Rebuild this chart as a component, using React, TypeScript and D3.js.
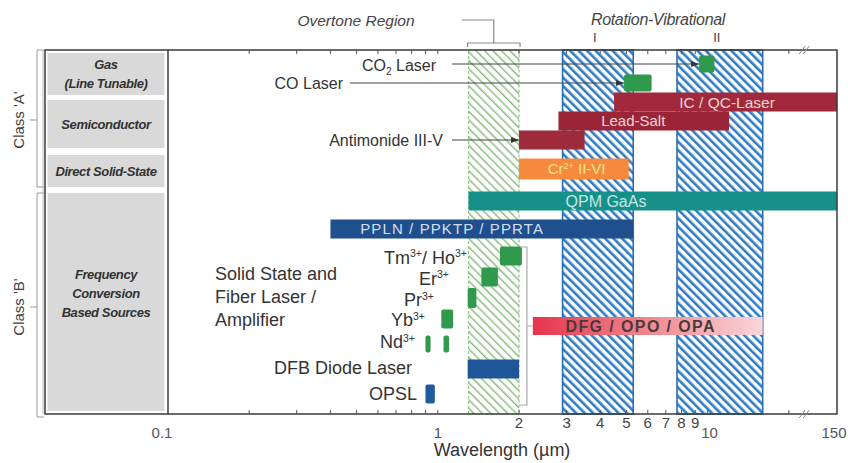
import React from "react";
import * as d3 from "d3";

// rows of the chart, top to bottom
const sourceRows = ["CO2", "CO", "ICQC", "LeadSalt", "Antimonide", "Cr", "QPM", "PPLN", "TmHo", "Er", "Pr", "Yb", "Nd", "DFB", "OPSL"];

// wavelength segments (µm)
const segRow = ["CO2", "CO", "ICQC", "LeadSalt", "Antimonide", "Cr", "QPM", "PPLN", "TmHo", "Er", "Pr", "Yb", "Nd", "Nd", "DFB", "OPSL"];
const segStart = [9.3, 4.9, 4.5, 2.8, 2.0, 2.0, 1.3, 0.4, 1.7, 1.45, 1.29, 1.03, 0.9, 1.05, 1.29, 0.9];
const segEnd = [10.6, 6.2, 150, 12, 3.5, 5.1, 150, 5.3, 2.05, 1.67, 1.39, 1.14, 0.94, 1.1, 2.0, 0.975];

const dfgRange = [2.25, 16];

// hatched absorption regions
const bandNames = ["Overtone", "I", "II"];
const bandStart = [1.3, 2.9, 7.7];
const bandEnd = [2.0, 5.3, 16];

const majorTicks = [0.1, 1, 10, 150];
const numberedMinor = [2, 3, 4, 5, 6, 7, 8, 9];
const minorTicks = [0.2, 0.3, 0.4, 0.5, 0.6, 0.7, 0.8, 0.9, 2, 3, 4, 5, 6, 7, 8, 9, 20];

const classNames = ["Class 'A'", "Class 'B'"];
const groupLabels = [["Gas", "(Line Tunable)"], ["Semiconductor"], ["Direct Solid-State"], ["Frequency", "Conversion", "Based Sources"]];

const fills: Record<string, string> = {
  CO2: "#2f9a4c", CO: "#2f9a4c", ICQC: "#a1293b", LeadSalt: "#9b2537", Antimonide: "#9d2b3b",
  Cr: "#f58a3d", QPM: "#16918a", PPLN: "#1f4f8d", TmHo: "#2f9a4c", Er: "#2f9a4c", Pr: "#2f9a4c",
  Yb: "#2f9a4c", Nd: "#2f9a4c", DFB: "#1e5697", OPSL: "#205b9c",
};
const thick: Record<string, number> = { CO2: 17, CO: 17, Cr: 21, Pr: 20, Nd: 17 };

const FONT = "'Liberation Sans', Arial, sans-serif";

export default function App() {
  const top = 50, bottom = 414, left = 45, right = 837, plotLeft = 168;

  // log wavelength axis, compressed after the break
  const x = d3.scaleLog().domain([0.1, 25, 150]).range([plotLeft, 815, right]);
  const rowY = d3.scaleLinear().domain([0, 4, 5, 6, 7, 8, 11, 14]).range([64, 140, 169, 201, 229, 256, 319, 394]);
  const y = (name: string) => rowY(sourceRows.indexOf(name));

  const bracketX = x(2.05) + 5;
  const bracketTop = y("TmHo") - 9;
  const bracketBot = y("OPSL") + 11;
  const bracketMid = (bracketTop + bracketBot) / 2;

  const boxes = [[53, 95], [100, 148], [155, 187], [193, 411]];
  const breakX = x(23);

  const sup = (t: string, d = 7) => (
    <tspan fontSize={10.5} dy={-d}>{t}</tspan>
  );
  const down = (t: string, d = 7) => <tspan dy={d}>{t}</tspan>;

  const barText = (label: React.ReactNode, at: number, yy: number, color: string, size = 15, extra: any = {}) => (
    <text x={x(at)} y={yy + size * 0.36} textAnchor="middle" fontSize={size} fill={color} fontFamily={FONT} {...extra}>
      {label}
    </text>
  );

  return (
    <div style={{ position: "absolute", left: 0, top: 0 }}>
      <svg width={848} height={463} style={{ display: "block", background: "#fff" }} fontFamily={FONT}>
        <defs>
          <pattern id="hatchBlue" width="6" height="6" patternUnits="userSpaceOnUse" patternTransform="rotate(-45)">
            <rect width="6" height="6" fill="#fff" />
            <rect width="2.6" height="6" fill="#2f7cc4" />
          </pattern>
          <pattern id="hatchGreen" width="6" height="6" patternUnits="userSpaceOnUse" patternTransform="rotate(-45)">
            <rect width="6" height="6" fill="#fff" />
            <rect width="1.4" height="6" fill="#84bb78" />
          </pattern>
          <linearGradient id="dfgGrad" x1="0" x2="1" y1="0" y2="0">
            <stop offset="0" stopColor="#e6344d" />
            <stop offset="0.45" stopColor="#ef7f86" />
            <stop offset="1" stopColor="#f8d6da" />
          </linearGradient>
          <marker id="arr" viewBox="0 0 8 6" refX="8" refY="3" markerWidth="8" markerHeight="6" orient="auto">
            <path d="M0,0 L8,3 L0,6 z" fill="#333" />
          </marker>
        </defs>

        {/* left category panel */}
        {boxes.map(([a, b], i) => (
          <rect key={i} x={47.5} y={a} width={117} height={b - a} fill="#d9d9d9" />
        ))}
        {groupLabels.map((lines, i) => {
          const [a, b] = boxes[i];
          const mid = i === 3 ? 293 : (a + b) / 2;
          return lines.map((t, j) => (
            <text key={i + "-" + j} x={106} y={mid + (j - (lines.length - 1) / 2) * 19 + 4.5} textAnchor="middle"
              fontSize={13} fontStyle="italic" fontWeight="bold" fill="#333" letterSpacing={-0.4}>
              {t}
            </text>
          ));
        })}

        {/* class brackets */}
        <path d={`M44,${top} H37 V187 H44 M37,120 H30`} fill="none" stroke="#999" strokeWidth={1} />
        <path d={`M44,193 H37 V${bottom + 3} H44 M37,307 H30`} fill="none" stroke="#999" strokeWidth={1} />
        {classNames.map((c, i) => (
          <text key={c} transform={`translate(24,${i === 0 ? 120 : 307}) rotate(-90)`} textAnchor="middle"
            fontSize={15} fill="#444">{c}</text>
        ))}

        {/* hatched regions */}
        {bandNames.map((n, i) => {
          const x0 = x(bandStart[i]), x1 = x(bandEnd[i]);
          const green = i === 0;
          return (
            <g key={n}>
              <rect x={x0} y={top} width={x1 - x0} height={bottom - top} fill={green ? "url(#hatchGreen)" : "url(#hatchBlue)"} />
              <rect x={x0} y={top} width={x1 - x0} height={bottom - top} fill="none"
                stroke={green ? "#92c687" : "#2a6cb3"} strokeWidth={green ? 1.2 : 1.6}
                strokeDasharray={green ? "3,2" : undefined} />
              {!green && (
                <text x={(x0 + x1) / 2 - 3} y={42} textAnchor="middle" fontSize={13} fill="#444">{n}</text>
              )}
            </g>
          );
        })}

        {/* overtone bracket and titles */}
        <path d={`M${x(1.3) - 1},47 V43 H${x(2.0) + 1} V47`} fill="none" stroke="#888" strokeWidth={1.2} />
        <path d={`M${(x(1.3) + x(2.0)) / 2},43 V20 H462`} fill="none" stroke="#888" strokeWidth={1.2} />
        <text x={356} y={26} textAnchor="middle" fontSize={15.5} fontStyle="italic" fill="#444">Overtone Region</text>
        <text x={658} y={25} textAnchor="middle" fontSize={16} fontStyle="italic" fill="#444" letterSpacing={-0.3}>Rotation-Vibrational</text>

        {/* source bars */}
        {segRow.map((r, i) => {
          const h = thick[r] ?? 19;
          const x0 = x(segStart[i]), x1 = x(segEnd[i]);
          const small = ["CO2", "CO", "TmHo", "Er", "Pr", "Yb", "Nd", "OPSL"].includes(r);
          return (
            <rect key={i} x={x0} y={y(r) - h / 2} width={x1 - x0} height={h} fill={fills[r]} rx={small ? 2 : 0} />
          );
        })}

        {/* DFG / OPO / OPA */}
        <rect x={x(dfgRange[0])} y={bracketMid - 9} width={x(dfgRange[1]) - x(dfgRange[0])} height={18} fill="url(#dfgGrad)" />
        <path d={`M${bracketX - 7},${bracketTop} H${bracketX} V${bracketBot} H${bracketX - 7} M${bracketX},${bracketMid} H${x(dfgRange[0])}`}
          fill="none" stroke="#aaa" strokeWidth={1.2} />

        {/* bar labels */}
        {barText("IC / QC-Laser", 11.8, y("ICQC"), "#f2d6d8", 15.5)}
        {barText("Lead-Salt", 5.3, y("LeadSalt"), "#f2d6d8", 15)}
        {barText(<>Cr<tspan fontSize={9} dy={-5}>2+</tspan><tspan dy={5}> II-VI</tspan></>, 3.27, y("Cr"), "#fbe38f", 15)}
        {barText("QPM GaAs", 4.2, y("QPM"), "#c6e6e4", 16)}
        {barText("PPLN / PPKTP / PPRTA", 1.13, y("PPLN"), "#d5dff0", 15, { letterSpacing: 1.1 })}
        {barText("DFG / OPO / OPA", 5.65, bracketMid, "#4a3a3e", 16, { fontWeight: "bold", letterSpacing: 1.4 })}

        {/* callouts */}
        <text x={436} y={y("CO2") + 7} textAnchor="end" fontSize={16} fill="#333">CO<tspan fontSize={10} dy={4}>2</tspan><tspan dy={-4}> Laser</tspan></text>
        <line x1={452} x2={x(segStart[0])} y1={y("CO2")} y2={y("CO2")} stroke="#444" strokeWidth={1} markerEnd="url(#arr)" />
        <text x={343} y={y("CO") + 6} textAnchor="end" fontSize={16} fill="#333">CO Laser</text>
        <line x1={350} x2={x(segStart[1])} y1={y("CO")} y2={y("CO")} stroke="#444" strokeWidth={1} markerEnd="url(#arr)" />
        <text x={443} y={y("Antimonide") + 6} textAnchor="end" fontSize={16} fill="#333">Antimonide III-V</text>
        <line x1={452} x2={x(segStart[4])} y1={y("Antimonide")} y2={y("Antimonide")} stroke="#444" strokeWidth={1} markerEnd="url(#arr)" />

        {/* solid-state labels */}
        <text x={467} y={y("TmHo") + 8} textAnchor="end" fontSize={18} fill="#333">Tm{sup("3+")}{down("/ Ho")}{sup("3+")}</text>
        <text x={449} y={y("Er") + 8} textAnchor="end" fontSize={18} fill="#333">Er{sup("3+")}</text>
        <text x={434} y={y("Pr") + 8} textAnchor="end" fontSize={18} fill="#333">Pr{sup("3+", 6)}</text>
        <text x={425} y={y("Yb") + 7} textAnchor="end" fontSize={18} fill="#333">Yb{sup("3+", 6)}</text>
        <text x={415} y={y("Nd") + 4} textAnchor="end" fontSize={18} fill="#333">Nd{sup("3+", 6)}</text>
        <text x={412} y={y("DFB") + 5} textAnchor="end" fontSize={18} fill="#333">DFB Diode Laser</text>
        <text x={417} y={y("OPSL") + 6} textAnchor="end" fontSize={18} fill="#333">OPSL</text>
        {["Solid State and", "Fiber Laser /", "Amplifier"].map((t, i) => (
          <text key={t} x={215} y={280 + i * 23} fontSize={18} fill="#333">{t}</text>
        ))}

        {/* frame */}
        <line x1={43} x2={43} y1={top} y2={bottom} stroke="#bbb" strokeWidth={1} />
        <rect x={left} y={top} width={right - left} height={bottom - top} fill="none" stroke="#3a3a3a" strokeWidth={1.5} />
        <line x1={plotLeft} x2={plotLeft} y1={top} y2={bottom} stroke="#3a3a3a" strokeWidth={1.5} />

        {/* ticks */}
        {minorTicks.concat([1, 10]).map((t) => (
          <g key={t}>
            <line x1={x(t)} x2={x(t)} y1={bottom} y2={bottom - 4} stroke="#555" />
            <line x1={x(t)} x2={x(t)} y1={top} y2={top + 4} stroke="#555" />
          </g>
        ))}
        {majorTicks.map((t, i) => (
          <text key={t} x={x(t) + [-6, 0, 2, -3][i]} y={438} textAnchor="middle" fontSize={15} fill="#555">{t}</text>
        ))}
        {numberedMinor.map((t) => (
          <text key={t} x={x(t)} y={428} textAnchor="middle" fontSize={15} fill="#444">{t}</text>
        ))}

        {/* axis break */}
        {[top, bottom].map((yy) => (
          <path key={yy} d={`M${breakX - 6},${yy + 4} L${breakX},${yy - 4} M${breakX - 2},${yy + 4} L${breakX + 4},${yy - 4}`}
            stroke="#888" strokeWidth={1} fill="none" />
        ))}

        <text x={502} y={456} textAnchor="middle" fontSize={18} fill="#333">Wavelength (µm)</text>
      </svg>
    </div>
  );
}
